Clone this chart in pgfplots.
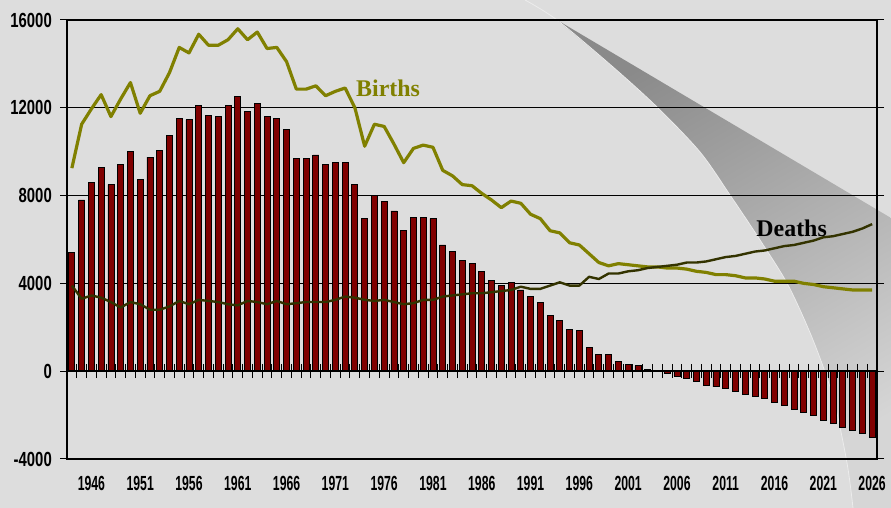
\documentclass[border=0pt]{standalone}
\usepackage{pgfplots}
\pgfplotsset{compat=1.18}
\usepackage{pgfplotstable}
\usepackage{fontspec}
\setmainfont{Liberation Serif}
\newfontfamily\ylabfont[FakeStretch=0.73]{Liberation Sans}
\newfontfamily\xlabfont[FakeStretch=0.6]{Liberation Sans}
\definecolor{bg}{HTML}{DDDDDD}
\definecolor{barred}{HTML}{800000}
\definecolor{births}{HTML}{808000}
\definecolor{deaths}{HTML}{333300}
\pgfplotstableread{
year births deaths net
1944 9250 3900 5400
1945 11250 3300 7800
1946 11950 3450 8600
1947 12600 3350 9300
1948 11600 3150 8500
1949 12400 2900 9400
1950 13150 3150 10000
1951 11750 3050 8750
1952 12550 2800 9750
1953 12750 2800 10050
1954 13600 2950 10750
1955 14750 3200 11500
1956 14500 3050 11450
1957 15350 3250 12100
1958 14850 3200 11650
1959 14850 3150 11600
1960 15100 3050 12100
1961 15600 3000 12500
1962 15100 3200 11850
1963 15450 3150 12200
1964 14700 3050 11600
1965 14750 3200 11500
1966 14100 3050 11000
1967 12850 3100 9700
1968 12850 3150 9700
1969 13000 3150 9850
1970 12550 3150 9400
1971 12750 3250 9500
1972 12900 3400 9500
1973 12000 3350 8500
1974 10250 3250 6950
1975 11250 3200 8000
1976 11150 3250 7750
1977 10350 3150 7300
1978 9500 3050 6400
1979 10150 3100 7000
1980 10300 3250 7000
1981 10200 3250 6950
1982 9150 3400 5750
1983 8900 3450 5450
1984 8500 3500 5050
1985 8450 3550 4900
1986 8100 3550 4550
1987 7800 3600 4150
1988 7450 3650 3900
1989 7750 3700 4050
1990 7650 3850 3700
1991 7150 3750 3400
1992 6950 3750 3150
1993 6400 3900 2550
1994 6300 4050 2300
1995 5850 3900 1900
1996 5750 3900 1850
1997 5350 4300 1100
1998 4950 4200 750
1999 4800 4450 750
2000 4900 4450 450
2001 4850 4550 300
2002 4800 4600 250
2003 4750 4700 80
2004 4750 4750 10
2005 4700 4800 -80
2006 4700 4850 -230
2007 4650 4950 -330
2008 4550 4950 -450
2009 4500 5000 -650
2010 4400 5100 -710
2011 4400 5200 -800
2012 4350 5250 -940
2013 4250 5350 -1050
2014 4250 5450 -1170
2015 4200 5500 -1260
2016 4100 5600 -1420
2017 4100 5700 -1550
2018 4100 5750 -1730
2019 4000 5850 -1880
2020 3950 5950 -2020
2021 3850 6100 -2240
2022 3800 6150 -2380
2023 3750 6250 -2560
2024 3700 6350 -2710
2025 3700 6500 -2850
2026 3700 6700 -3000
}\data

\begin{document}
\begin{tikzpicture}[x=1bp,y=1bp]
\fill[bg] (0,0) rectangle (891,508);
% decorative swoosh
\shade[top color=black!46, middle color=black!30, bottom color=black!16, shading angle=30]
  plot[smooth] coordinates {(557,488) (613,441) (657,401) (700,356) (730,313) (760,268) (788,223) (813,168) (833,111) (847,45) (853,0)}
  -- (891,0) -- (891,290) -- cycle;
\draw[white!85!gray, line width=0.8bp]
  plot[smooth] coordinates {(525,508) (557,488) (613,441) (657,401) (700,356) (730,313) (760,268) (788,223) (813,168) (833,111) (847,45) (853,0)};

\begin{axis}[
  at={(67bp,49bp)}, anchor=south west, scale only axis,
  width=810bp, height=439bp,
  xmin=1943.5, xmax=2026.5, ymin=-4000, ymax=16000,
  scaled ticks=false,
  axis line style={black, line width=1.2bp},
  ytick={-4000,0,4000,8000,12000,16000},
  yticklabels={-4000,0,4000,8000,12000,16000},
  xtick={1946,1951,...,2026},
  xticklabels={1946,1951,1956,1961,1966,1971,1976,1981,1986,1991,1996,2001,2006,2011,2016,2021,2026},
  ymajorgrids, grid style={black, line width=1bp},
  xtick style={draw=none}, ytick style={black, line width=1bp},
  ytick align=outside, major tick length=7bp,
  yticklabel style={font=\ylabfont\bfseries\fontsize{20.5}{20.5}\selectfont, anchor=east, inner sep=0pt, xshift=-8bp},
  xticklabel style={font=\xlabfont\bfseries\fontsize{20.5}{20.5}\selectfont, anchor=center, inner sep=0pt, yshift=-24bp},
  clip=false,
]
\addplot[ybar, bar width=6bp, fill=barred, draw=black, line width=0.8bp] table[x=year,y=net]{\data};
\addplot[births, line width=3.2bp, line join=round, mark=none] table[x=year,y=births]{\data};
\addplot[deaths, line width=2.4bp, line join=round, mark=none] table[x=year,y=deaths]{\data};
\node[text=births, font=\bfseries\fontsize{24}{24}\selectfont, anchor=base] at (axis cs:1976.4,12500) {Births};
\node[text=black, font=\bfseries\fontsize{24}{24}\selectfont, anchor=base] at (axis cs:2017.75,6136) {Deaths};
\end{axis}

\begin{axis}[
  at={(67bp,49bp)}, anchor=south west, scale only axis,
  width=810bp, height=439bp,
  xmin=1943.5, xmax=2026.5, ymin=-4000, ymax=16000,
  scaled ticks=false,
  axis x line=middle, axis y line=none,
  x axis line style={-, black, line width=1.5bp},
  xtick={1943.5,1944.5,...,2026.5}, xticklabels={}, ytick=\empty,
  xtick align=center, major tick length=14bp,
  xtick style={black, line width=1bp},
]
\end{axis}
\pgfresetboundingbox
\path[use as bounding box] (0,0) rectangle (891,508);
\end{tikzpicture}
\end{document}
